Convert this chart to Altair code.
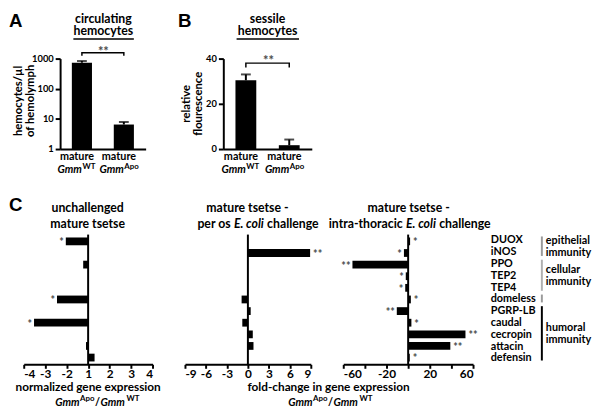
import altair as alt
import pandas as pd

FONT = "Lato"
LFONT = "Liberation Sans"

# ---------------- data ----------------
ab_groups = ["WT", "Apo"]
a_values = [730, 6.5]
a_upper = [830, 7.9]
a_bracket = [1250, 1570]
b_values = [30.4, 1.7]
b_upper = [33.0, 4.2]
b_bracket = [36.1, 38.0]

genes = ["DUOX", "iNOS", "PPO", "TEP2", "TEP4", "domeless", "PGRP-LB",
         "caudal", "cecropin", "attacin", "defensin"]
c1_values = [-2.04, None, -1.23, None, None, -2.45, None, -3.52, None, -1.1, 1.3]
c1_sig = ["*", "", "", "", "", "*", "", "*", "", "", ""]
c2_values = [None, 8.9, None, None, None, -0.9, 0.4, -0.8, 0.7, 0.8, None]
c2_sig = ["", "**", "", "", "", "", "", "", "", "", ""]
c3_values = [1.8, -3.9, -51.5, -2.2, -2.7, 2.5, -10.5, 3.0, 53.0, 39.0, 1.5]
c3_sig = ["*", "*", "**", "*", "*", "*", "**", "*", "**", "**", "*"]

group_lines = [["epithelial", "immunity"], ["cellular", "immunity"], [], ["humoral", "immunity"]]
group_first = ["DUOX", "PPO", "domeless", "PGRP-LB"]
group_last = ["iNOS", "TEP4", "domeless", "defensin"]
group_colors = ["#9a9a9a", "#b0b0b0", "#9a9a9a", "#000000"]

a_ticks = [1, 10, 100, 1000]
b_ticks = [0, 20, 40]
c1_ticks = [-3, -2, -1, 0, 1, 2, 3]
c2_ticks = [-9, -6, -3, 0, 3, 6, 9]
c3_ticks = [-60, -40, -20, 0, 20, 40, 60]

# ---------------- layout ----------------
AW, AH, BW = 87, 92, 90
CH, C1W, C2W, C3W, LW = 132, 131, 128, 132, 60
PI, PO = 0.33, 0.25
STEP = CH / (len(genes) - PI + 2 * PO)


def band_center(g):
    i = genes.index(g)
    return PO * STEP + i * STEP + (1 - PI) * STEP / 2


ONE = pd.DataFrame({"k": [0]})
STAR = "#4a4a4a"

# rough Lato-Bold advance widths (em) used to butt text pieces together
CW = {" ": .19, ".": .24, "-": .34, "/": .40, "A": .68, "E": .58, "G": .70,
      "T": .57, "W": .97, "a": .52, "c": .46, "e": .53, "g": .52, "h": .58,
      "i": .26, "l": .26, "m": .87, "n": .58, "o": .57, "p": .58, "r": .38,
      "s": .42, "t": .36}


def tw(s, size):
    return sum(CW.get(ch, .55) for ch in s) * size


def txt(x, y, s, size=12, align="center", baseline="middle", italic=False,
        color="black", angle=None, font=FONT, weight="bold"):
    kw = dict(text=s, font=font, fontSize=size, fontWeight=weight, align=align,
              baseline=baseline, color=color)
    if italic:
        kw["fontStyle"] = "italic"
    if angle is not None:
        kw["angle"] = angle
    return alt.Chart(ONE).mark_text(**kw).encode(x=alt.value(x), y=alt.value(y))


def hline(x1, x2, y, w=1.5, color="black"):
    return alt.Chart(ONE).mark_rule(strokeWidth=w, color=color).encode(
        x=alt.value(x1), x2=alt.value(x2), y=alt.value(y))


def vline(x, y1, y2, w=2, color="black", opacity=1):
    return alt.Chart(ONE).mark_rule(strokeWidth=w, color=color, opacity=opacity).encode(
        x=alt.value(x), y=alt.value(y1), y2=alt.value(y2))


def gmm_ratio(cx, cy, size=11, sup=8):
    g = tw("Gmm", size) * 0.97
    a = tw("Apo", sup)
    return [
        txt(cx, cy, "/", size),
        txt(cx - 3, cy - 4, "Apo", sup, align="right"),
        txt(cx - 3.5 - a, cy, "Gmm", size, align="right", italic=True),
        txt(cx + 3, cy, "Gmm", size, align="left", italic=True),
        txt(cx + 3.5 + g, cy - 4, "WT", sup, align="left"),
    ]


def ecoli_title(cx_italic, y, left, size=12):
    w = tw("E. coli", size) * 0.97
    sp = 3
    return [
        txt(cx_italic - w / 2 - sp, y, left, size, align="right"),
        txt(cx_italic, y, "E. coli", size, italic=True),
        txt(cx_italic + w / 2 + sp, y, "challenge", size, align="left"),
    ]


ax_common = dict(domainColor="black", domainWidth=2, tickColor="black", tickWidth=2,
                 labelFont=FONT, labelFontWeight="bold", labelColor="black",
                 grid=False, title=None)


def bar_panel(values, upper, bracket, ytype, ydomain, yticks):
    df = pd.DataFrame({"g": ab_groups, "v": values, "e": upper,
                       "base": [ydomain[0]] * 2, "sup": ["WT", "Apo"]})
    if ytype == "log":
        sc = alt.Scale(type="log", domain=ydomain, nice=False)
    else:
        sc = alt.Scale(domain=ydomain, nice=False)
    x = alt.X("g:N", sort=ab_groups,
              scale=alt.Scale(domain=ab_groups, paddingInner=0.52, paddingOuter=0.28),
              axis=alt.Axis(labels=False, ticks=False, **ax_common))
    y = alt.Y("v:Q", scale=sc,
              axis=alt.Axis(values=yticks, format="d", labelFontSize=9.5, labelPadding=2,
                            tickSize=5, **ax_common))
    base = alt.Chart(df)
    bars = base.mark_bar(color="black").encode(x=x, y=y, y2=alt.Y2("base:Q"))
    err = base.mark_rule(strokeWidth=2, color="black").encode(x=x, y="v:Q", y2="e:Q")
    cap = base.mark_tick(thickness=2, size=10, color="black").encode(x=x, y="e:Q")
    dfb = pd.DataFrame({"g": ["WT", "WT", "Apo", "Apo"],
                        "y": [bracket[0], bracket[1], bracket[1], bracket[0]],
                        "o": [0, 1, 2, 3]})
    brk = alt.Chart(dfb).mark_line(color="black", strokeWidth=1.5).encode(
        x=alt.X("g:N", sort=ab_groups), y="y:Q", order="o:Q")
    lab1 = base.mark_text(text="mature", font=FONT, fontWeight="bold", fontSize=11,
                          dx=-5, baseline="middle").encode(x=x, y=alt.value(AH + 8.5))
    lab2 = base.mark_text(text="Gmm", font=FONT, fontWeight="bold", fontStyle="italic",
                          fontSize=11, align="right", dx=0, baseline="middle").encode(
        x=x, y=alt.value(AH + 21.5))
    lab3 = base.mark_text(font=FONT, fontWeight="bold", fontSize=8, align="left", dx=0.5,
                          baseline="middle").encode(x=x, y=alt.value(AH + 18), text="sup:N")
    return [bars, err, cap, brk, lab1, lab2, lab3]


# ---------------- panel A ----------------
A_layers = bar_panel(a_values, a_upper, a_bracket, "log", [1, 1000], a_ticks)
A_layers += [
    txt(-52, -47, "A", 19, align="left", baseline="top", font=LFONT),
    txt(44, -40, "circulating", 12.5),
    txt(44, -28, "hemocytes", 12.5),
    hline(13.5, 75, -20),
    txt(44, -7, "**", 13, color=STAR),
    txt(-42, 43, "hemocytes/\u00b5l", 11.5, angle=270),
    txt(-30, 43, "of hemolymph", 11.5, angle=270),
]
chartA = alt.layer(*A_layers).properties(width=AW, height=AH)

# ---------------- panel B ----------------
B_layers = bar_panel(b_values, b_upper, b_bracket, "lin", [0, 40], b_ticks)
B_layers += [
    txt(-46, -47, "B", 19, align="left", baseline="top", font=LFONT),
    txt(45, -40, "sessile", 12.5),
    txt(45, -28, "hemocytes", 12.5),
    hline(13.5, 77, -20),
    txt(46, 3, "**", 13, color=STAR),
    txt(-37, 46, "relative", 11.5, angle=270),
    txt(-25, 46, "flourescence", 11.5, angle=270),
]
chartB = alt.layer(*B_layers).properties(width=BW, height=AH)

# ---------------- panel C ----------------
yC = alt.Y("gene:N", sort=genes,
           scale=alt.Scale(domain=genes, paddingInner=PI, paddingOuter=PO), axis=None)


def c_panel(values, sig, ticks, field, width, extra, c1=False):
    df = pd.DataFrame({"gene": genes, "v": values, "sig": sig}).dropna(subset=["v"])
    axis_kw = dict(values=ticks, labelFontSize=12, labelPadding=0, tickSize=4,
                   **ax_common)
    if c1:
        axis_kw["labelExpr"] = ("datum.value < 0 ? '' + (datum.value - 1) : "
                                "'' + (datum.value + 1)")
    else:
        axis_kw["labelExpr"] = "'' + datum.value"
    x = alt.X(f"{field}:Q", scale=alt.Scale(domain=[ticks[0], ticks[-1]], nice=False),
              axis=alt.Axis(**axis_kw))
    base = alt.Chart(df)
    if c1:
        base = base.transform_calculate(u="datum.v > 0 ? datum.v - 1 : datum.v + 1")
    bars = base.mark_bar(color="black").encode(x=x, y=yC)
    zero = alt.Chart(pd.DataFrame({field: [0]})).mark_rule(
        color="black", strokeWidth=2).encode(x=x)
    neg = base.transform_filter(f"datum.sig != '' && datum.{field} < 0").mark_text(
        align="right", dx=-2, dy=2, color=STAR, fontSize=11, font=FONT,
        fontWeight="bold").encode(x=x, y=yC, text="sig:N")
    pos = base.transform_filter(f"datum.sig != '' && datum.{field} > 0").mark_text(
        align="left", dx=3, dy=2, color=STAR, fontSize=11, font=FONT,
        fontWeight="bold").encode(x=x, y=yC, text="sig:N")
    return alt.layer(bars, zero, neg, pos, *extra).properties(width=width, height=CH)


C1_extra = [
    vline(-16, -54, 177, 1, "white", 0),          # layout anchor (invisible)
    txt(-15, -39, "C", 19, align="left", baseline="top", font=LFONT),
    txt(65, -26.5, "unchallenged", 12.5),
    txt(65, -11, "mature tsetse", 12.5),
    txt(65.5, 155.5, "normalized gene expression", 12),
] + gmm_ratio(75, 171)
chartC1 = c_panel(c1_values, c1_sig, c1_ticks, "u", C1W, C1_extra, c1=True)

C2_extra = [
    txt(63.5, -26.5, "mature tsetse -", 12.5),
    txt(146, 155.5, "fold-change in gene expression", 12),
] + ecoli_title(65, -11, "per os", 12.5) + gmm_ratio(148, 171)
chartC2 = c_panel(c2_values, c2_sig, c2_ticks, "v", C2W, C2_extra)

C3_extra = [
    txt(66.5, -26.5, "mature tsetse -", 12.5),
] + ecoli_title(79, -11, "intra-thoracic", 12.5)
chartC3 = c_panel(c3_values, c3_sig, c3_ticks, "v", C3W, C3_extra)

# ---------------- gene labels / groups ----------------
L_layers = [alt.Chart(pd.DataFrame({"gene": genes})).mark_text(
    align="left", baseline="middle", font=FONT, fontWeight="bold", fontSize=11).encode(
    y=yC, x=alt.value(-15), text="gene:N")]
for lines, g1, g2, col in zip(group_lines, group_first, group_last, group_colors):
    top = band_center(g1) - 5
    bot = band_center(g2) + 3
    L_layers.append(vline(37, top, bot, 2, col))
    mid = (band_center(g1) + band_center(g2)) / 2
    for k, s in enumerate(lines):
        L_layers.append(txt(41, mid - 6 + 11.5 * k, s, 11, align="left"))
chartL = alt.layer(*L_layers).properties(width=LW, height=CH)


def spacer(w, anchor=False):
    layers = [alt.Chart(ONE).mark_point(opacity=0, size=1).encode(
        x=alt.value(0), y=alt.value(0))]
    if anchor:
        layers.append(vline(-16, -48, 125, 1, "white", 0))   # layout anchor (invisible)
    return alt.layer(*layers).properties(width=w, height=10)


top_row = alt.hconcat(spacer(37, anchor=True), chartA, spacer(79), chartB,
                      spacing=0, bounds="flush")
bottom_row = alt.hconcat(chartC1, chartC2, chartC3, chartL, spacing=33, bounds="flush")

chart = alt.vconcat(top_row, bottom_row, spacing=0).properties(
    padding=0
).configure_view(stroke=None)

chart.save("out.html", embed_options={"renderer": "svg", "actions": False})
